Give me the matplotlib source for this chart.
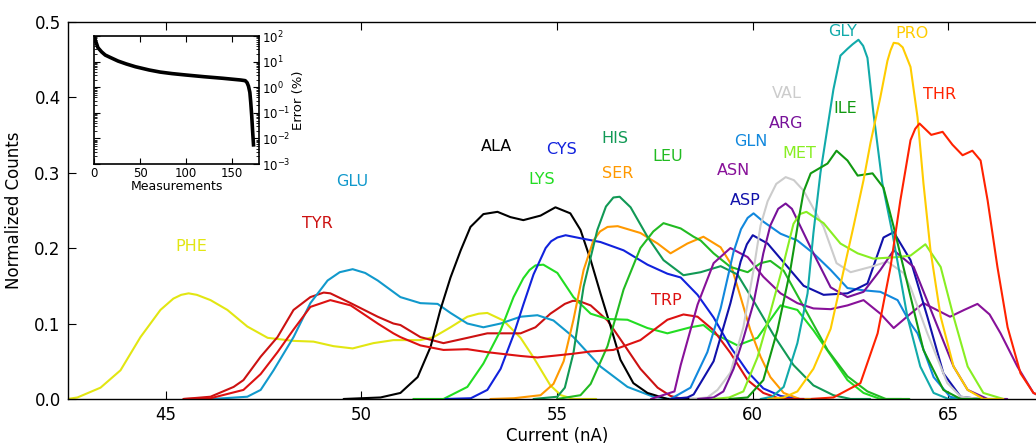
"""
Amino acid current distributions (normalized counts vs current) with error inset.

Output:
    out.png
"""
import matplotlib
matplotlib.use("Agg")
import matplotlib.pyplot as plt

# ---- data (current in nA, normalized counts) ----
PHE_X = [42.50, 42.75, 43.34, 43.85, 44.36, 44.87, 45.20, 45.40, 45.59, 45.80, 46.15, 46.58, 47.09, 47.61,
         48.27, 48.78, 49.29, 49.78, 50.31, 50.82, 51.51, 51.85, 52.28, 52.71, 53.00, 53.22, 53.63, 54.07,
         54.40, 54.83, 55.10, 55.42, 56.00]
PHE_Y = [0.000, 0.002, 0.015, 0.038, 0.082, 0.118, 0.133, 0.138, 0.140, 0.138, 0.131, 0.118, 0.096, 0.081,
         0.077, 0.076, 0.070, 0.067, 0.074, 0.078, 0.078, 0.082, 0.095, 0.109, 0.113, 0.114, 0.104, 0.081,
         0.055, 0.018, 0.005, 0.000, 0.000]

TYR_X = [45.46, 46.15, 46.74, 46.99, 47.43, 47.86, 48.27, 48.70, 49.04, 49.21, 49.73, 50.42, 50.82, 51.00,
         51.51, 52.10, 52.71, 53.22, 54.07, 54.45, 54.83, 55.20, 55.40, 55.55, 55.86, 56.29, 56.70, 57.13,
         57.57, 57.90, 58.20, 58.80]
TYR_Y = [0.000, 0.003, 0.016, 0.025, 0.056, 0.082, 0.118, 0.135, 0.141, 0.140, 0.127, 0.109, 0.100, 0.098,
         0.082, 0.074, 0.081, 0.087, 0.087, 0.095, 0.113, 0.126, 0.130, 0.130, 0.124, 0.104, 0.073, 0.040,
         0.015, 0.004, 0.000, 0.000]

GLU_X = [46.20, 47.09, 47.43, 47.76, 48.27, 48.70, 49.14, 49.45, 49.78, 50.10, 50.42, 51.00, 51.51, 51.95,
         52.28, 52.71, 53.12, 53.56, 54.07, 54.50, 54.91, 55.42, 56.11, 56.80, 57.46, 57.90, 58.50]
GLU_Y = [0.000, 0.003, 0.012, 0.038, 0.082, 0.127, 0.157, 0.168, 0.172, 0.167, 0.157, 0.135, 0.127, 0.126,
         0.114, 0.100, 0.095, 0.100, 0.109, 0.111, 0.104, 0.082, 0.043, 0.016, 0.003, 0.000, 0.000]

ALA_X = [49.55, 50.49, 51.00, 51.44, 51.77, 52.02, 52.28, 52.54, 52.79, 53.12, 53.48, 53.81, 54.14, 54.58,
         54.96, 55.34, 55.60, 55.86, 56.11, 56.37, 56.62, 56.95, 57.31, 57.82, 58.50]
ALA_Y = [0.000, 0.002, 0.008, 0.029, 0.069, 0.118, 0.161, 0.197, 0.228, 0.245, 0.248, 0.241, 0.237, 0.243,
         0.254, 0.246, 0.224, 0.184, 0.140, 0.096, 0.052, 0.021, 0.008, 0.000, 0.000]

LYS_X = [51.33, 52.10, 52.71, 53.12, 53.56, 53.89, 54.14, 54.30, 54.45, 54.65, 55.01, 55.42, 55.86, 56.29,
         56.80, 57.31, 57.82, 58.41, 58.74, 59.00, 59.61, 60.12, 60.45, 60.71, 61.14, 61.55, 61.99, 62.42,
         62.83, 63.26, 63.80]
LYS_Y = [0.000, 0.000, 0.016, 0.047, 0.091, 0.135, 0.160, 0.171, 0.177, 0.178, 0.167, 0.135, 0.113, 0.106,
         0.105, 0.094, 0.087, 0.095, 0.098, 0.087, 0.071, 0.081, 0.105, 0.124, 0.118, 0.091, 0.058, 0.025,
         0.008, 0.000, 0.000]

CYS_X = [52.15, 52.80, 53.22, 53.56, 53.89, 54.14, 54.40, 54.71, 54.85, 55.01, 55.22, 55.60, 56.11, 56.70,
         57.31, 57.82, 58.16, 58.59, 59.00, 59.43, 59.87, 60.27, 60.71, 61.20, 61.80]
CYS_Y = [0.000, 0.001, 0.012, 0.040, 0.085, 0.125, 0.165, 0.200, 0.209, 0.214, 0.217, 0.213, 0.208, 0.197,
         0.178, 0.166, 0.161, 0.138, 0.108, 0.069, 0.036, 0.014, 0.004, 0.000, 0.000]

SER_X = [53.30, 53.90, 54.58, 54.91, 55.17, 55.42, 55.68, 55.93, 56.10, 56.29, 56.55, 57.13, 57.57, 57.90,
         58.33, 58.74, 59.18, 59.43, 59.69, 59.94, 60.20, 60.45, 60.79, 61.20, 61.80]
SER_Y = [0.000, 0.001, 0.005, 0.020, 0.050, 0.105, 0.171, 0.210, 0.222, 0.228, 0.229, 0.220, 0.206, 0.193,
         0.206, 0.215, 0.201, 0.180, 0.135, 0.091, 0.056, 0.029, 0.008, 0.000, 0.000]

HIS_X = [54.40, 55.01, 55.20, 55.42, 55.68, 56.03, 56.25, 56.44, 56.60, 56.88, 57.31, 57.72, 58.23, 58.67,
         59.18, 59.61, 60.02, 60.53, 61.04, 61.55, 62.06, 62.50, 63.00]
HIS_Y = [0.000, 0.003, 0.015, 0.061, 0.149, 0.224, 0.255, 0.267, 0.268, 0.254, 0.215, 0.184, 0.164, 0.168,
         0.176, 0.165, 0.130, 0.085, 0.045, 0.018, 0.005, 0.000, 0.000]

LEU_X = [55.00, 55.60, 55.86, 56.29, 56.70, 57.13, 57.46, 57.72, 58.16, 58.49, 58.67, 59.00, 59.43, 59.87,
         60.20, 60.45, 60.79, 61.40, 61.91, 62.42, 62.93, 63.40, 64.00]
LEU_Y = [0.000, 0.005, 0.020, 0.070, 0.145, 0.200, 0.222, 0.233, 0.226, 0.215, 0.210, 0.193, 0.175, 0.168,
         0.180, 0.183, 0.170, 0.113, 0.065, 0.030, 0.010, 0.000, 0.000]

TRP_X = [45.46, 46.15, 46.99, 47.43, 47.86, 48.27, 48.70, 49.21, 49.73, 50.42, 50.82, 51.00, 51.51, 52.10,
         52.71, 53.22, 54.07, 54.50, 55.42, 55.86, 56.44, 57.13, 57.82, 58.23, 58.59, 59.00, 59.43, 59.87,
         60.27, 60.71, 61.30]
TRP_Y = [0.000, 0.001, 0.012, 0.033, 0.062, 0.092, 0.122, 0.131, 0.124, 0.100, 0.087, 0.082, 0.071, 0.065,
         0.066, 0.062, 0.057, 0.055, 0.060, 0.063, 0.065, 0.078, 0.105, 0.112, 0.109, 0.091, 0.061, 0.025,
         0.008, 0.000, 0.000]

ASN_X = [57.40, 58.00, 58.16, 58.59, 59.00, 59.43, 59.87, 60.27, 60.71, 61.14, 61.55, 61.99, 62.42, 62.83,
         63.26, 63.60, 64.03, 64.36, 64.70, 65.04, 65.40, 65.74, 66.05, 66.33, 66.76, 67.17, 67.40]
ASN_Y = [0.000, 0.010, 0.045, 0.125, 0.180, 0.200, 0.188, 0.162, 0.140, 0.127, 0.120, 0.119, 0.124, 0.131,
         0.113, 0.094, 0.113, 0.127, 0.118, 0.109, 0.118, 0.126, 0.112, 0.087, 0.043, 0.008, 0.002]

GLN_X = [57.90, 58.41, 58.84, 59.18, 59.51, 59.70, 59.87, 60.02, 60.27, 60.71, 61.14, 61.55, 61.99, 62.42,
         62.83, 63.26, 63.70, 64.03, 64.21, 64.62, 65.04, 65.30, 65.80]
GLN_Y = [0.000, 0.015, 0.062, 0.120, 0.195, 0.225, 0.240, 0.246, 0.235, 0.219, 0.210, 0.193, 0.171, 0.147,
         0.144, 0.142, 0.131, 0.100, 0.087, 0.029, 0.003, 0.000, 0.000]

ASP_X = [57.90, 58.33, 58.49, 59.00, 59.43, 59.69, 59.85, 60.00, 60.38, 60.89, 61.30, 61.81, 62.42, 62.93,
         63.34, 63.60, 64.03, 64.46, 64.87, 65.31, 65.80]
ASP_Y = [0.000, 0.002, 0.006, 0.050, 0.127, 0.182, 0.205, 0.217, 0.206, 0.175, 0.150, 0.138, 0.140, 0.153,
         0.214, 0.221, 0.184, 0.109, 0.034, 0.003, 0.000]

VAL_X = [58.40, 58.84, 59.10, 59.43, 59.76, 60.02, 60.20, 60.38, 60.60, 60.84, 61.05, 61.30, 61.81, 62.14,
         62.50, 63.01, 63.44, 63.85, 64.03, 64.46, 64.97, 65.31, 65.80]
VAL_Y = [0.000, 0.002, 0.012, 0.035, 0.095, 0.171, 0.230, 0.262, 0.285, 0.294, 0.290, 0.276, 0.228, 0.180,
         0.168, 0.175, 0.182, 0.167, 0.148, 0.087, 0.021, 0.003, 0.000]

ARG_X = [58.60, 59.00, 59.25, 59.51, 59.76, 60.02, 60.27, 60.45, 60.65, 60.84, 61.00, 61.14, 61.55, 61.99,
         62.42, 62.83, 63.26, 63.60, 64.11, 64.62, 65.13, 65.49, 66.00, 66.50]
ARG_Y = [0.000, 0.002, 0.010, 0.040, 0.080, 0.127, 0.193, 0.230, 0.252, 0.259, 0.252, 0.237, 0.193, 0.148,
         0.135, 0.142, 0.171, 0.197, 0.175, 0.109, 0.043, 0.012, 0.000, 0.000]

MET_X = [59.00, 59.40, 59.76, 60.12, 60.45, 60.79, 61.04, 61.20, 61.37, 61.81, 62.24, 62.68, 63.08, 63.70,
         64.03, 64.41, 64.80, 65.13, 65.49, 65.89, 66.40]
MET_Y = [0.000, 0.002, 0.010, 0.055, 0.115, 0.180, 0.232, 0.245, 0.248, 0.233, 0.206, 0.193, 0.186, 0.188,
         0.190, 0.205, 0.175, 0.109, 0.043, 0.008, 0.000]

GLY_X = [60.20, 60.50, 60.79, 61.14, 61.40, 61.55, 61.73, 61.91, 62.06, 62.24, 62.42, 62.55, 62.70, 62.82,
         62.93, 63.08, 63.31, 63.57, 63.95, 64.28, 64.62, 65.00, 65.50]
GLY_Y = [0.000, 0.003, 0.016, 0.074, 0.140, 0.220, 0.300, 0.360, 0.410, 0.455, 0.464, 0.470, 0.476, 0.468,
         0.452, 0.380, 0.286, 0.219, 0.109, 0.043, 0.008, 0.000, 0.000]

ILE_X = [59.40, 59.87, 60.27, 60.63, 60.96, 61.17, 61.30, 61.48, 61.91, 62.14, 62.42, 62.68, 63.06, 63.34,
         63.60, 63.95, 64.36, 64.87, 65.31, 65.80]
ILE_Y = [0.000, 0.002, 0.025, 0.091, 0.171, 0.237, 0.275, 0.299, 0.312, 0.329, 0.316, 0.296, 0.299, 0.280,
         0.228, 0.153, 0.065, 0.012, 0.000, 0.000]

PRO_X = [60.40, 60.79, 61.14, 61.55, 61.99, 62.32, 62.58, 62.83, 63.01, 63.26, 63.44, 63.52, 63.60, 63.72,
         63.83, 64.03, 64.21, 64.36, 64.54, 64.80, 65.13, 65.49, 65.89, 66.40]
PRO_Y = [0.000, 0.002, 0.010, 0.040, 0.093, 0.170, 0.230, 0.290, 0.340, 0.400, 0.448, 0.462, 0.472, 0.471,
         0.466, 0.440, 0.373, 0.286, 0.197, 0.109, 0.043, 0.012, 0.000, 0.000]

THR_X = [61.50, 62.06, 62.75, 63.19, 63.52, 63.77, 64.03, 64.15, 64.26, 64.56, 64.85, 65.10, 65.36, 65.61,
         65.82, 66.00, 66.25, 66.51, 66.84, 67.17, 67.50]
THR_Y = [0.000, 0.002, 0.021, 0.087, 0.175, 0.263, 0.343, 0.358, 0.365, 0.350, 0.354, 0.337, 0.323, 0.329,
         0.316, 0.263, 0.175, 0.095, 0.034, 0.008, 0.001]

# inset: reconstruction error (%) vs number of measurements
ERR_X = [0, 1, 4, 8, 12, 17, 26, 35, 45, 60, 72, 85, 100, 120, 140, 160, 165, 167, 168.5, 170, 171, 172,
         173, 174]
ERR_Y = [100, 72, 35, 24, 18, 14.8, 10.5, 8.1, 6.3, 4.7, 3.9, 3.4, 3.0, 2.57, 2.24, 1.91, 1.8, 1.5, 1.1,
         0.63, 0.25, 0.08, 0.02, 0.0056]

NAMES = ["PHE", "TYR", "GLU", "ALA", "LYS", "CYS", "SER", "HIS", "LEU", "TRP",
         "ASN", "GLN", "ASP", "VAL", "ARG", "MET", "GLY", "ILE", "PRO", "THR"]
CURVES = {
    "PHE": (PHE_X, PHE_Y), "TYR": (TYR_X, TYR_Y), "GLU": (GLU_X, GLU_Y), "ALA": (ALA_X, ALA_Y),
    "LYS": (LYS_X, LYS_Y), "CYS": (CYS_X, CYS_Y), "SER": (SER_X, SER_Y), "HIS": (HIS_X, HIS_Y),
    "LEU": (LEU_X, LEU_Y), "TRP": (TRP_X, TRP_Y), "ASN": (ASN_X, ASN_Y), "GLN": (GLN_X, GLN_Y),
    "ASP": (ASP_X, ASP_Y), "VAL": (VAL_X, VAL_Y), "ARG": (ARG_X, ARG_Y), "MET": (MET_X, MET_Y),
    "GLY": (GLY_X, GLY_Y), "ILE": (ILE_X, ILE_Y), "PRO": (PRO_X, PRO_Y), "THR": (THR_X, THR_Y),
}
COLORS = {
    "PHE": "#e2e612", "TYR": "#cc1111", "GLU": "#1199cc", "ALA": "#000000", "LYS": "#22dd22",
    "CYS": "#1122dd", "SER": "#ff9900", "HIS": "#119955", "LEU": "#22bb22", "TRP": "#dd1111",
    "ASN": "#881199", "GLN": "#1188dd", "ASP": "#1111aa", "VAL": "#cccccc", "ARG": "#771199",
    "MET": "#88ee22", "GLY": "#11aaaa", "ILE": "#119911", "PRO": "#ffcc00", "THR": "#ff2200",
}
# label anchor (current, counts)
LABEL_X = [45.66, 48.88, 49.78, 53.45, 54.60, 55.11, 56.55, 56.49, 57.82, 57.80,
           59.51, 59.94, 59.81, 60.86, 60.84, 61.19, 62.29, 62.37, 64.08, 64.77]
LABEL_Y = [0.202, 0.233, 0.288, 0.335, 0.291, 0.331, 0.299, 0.345, 0.321, 0.131,
           0.303, 0.341, 0.263, 0.405, 0.365, 0.325, 0.487, 0.385, 0.484, 0.403]


def main() -> None:
    plt.rcParams["font.family"] = "DejaVu Sans"
    fig = plt.figure(figsize=(10.36, 4.44), dpi=100)

    ax = fig.add_axes([0.0653, 0.1014, 0.9447, 0.8498])
    for name in NAMES:
        xs, ys = CURVES[name]
        ax.plot(xs, ys, color=COLORS[name], lw=1.5,
                solid_capstyle="round", solid_joinstyle="round")
    for name, lx, ly in zip(NAMES, LABEL_X, LABEL_Y):
        ax.text(lx, ly, name, color=COLORS[name], fontsize=11.5,
                ha="center", va="center", zorder=5)

    ax.set_xlim(42.5, 67.5)
    ax.set_ylim(0.0, 0.5)
    ax.set_xticks([45, 50, 55, 60, 65])
    ax.set_yticks([0.0, 0.1, 0.2, 0.3, 0.4, 0.5])
    ax.tick_params(direction="in", length=6, width=0.8, top=True, right=True,
                   labelsize=12, pad=5)
    for sp in ax.spines.values():
        sp.set_linewidth(1.0)
    ax.set_xlabel("Current (nA)", fontsize=12, labelpad=2)
    ax.set_ylabel("Normalized Counts", fontsize=12, labelpad=8)

    # inset
    ins = fig.add_axes([0.091, 0.6306, 0.159, 0.2883])
    ins.plot(ERR_X, ERR_Y, color="black", lw=2.6, solid_joinstyle="round")
    ins.set_yscale("log")
    ins.set_xlim(0, 180)
    ins.set_ylim(1e-3, 1e2)
    ins.set_xticks([0, 50, 100, 150])
    ins.tick_params(which="both", direction="in", top=True, right=True,
                    left=True, labelleft=False, labelright=True, labelsize=8.5, pad=2)
    ins.tick_params(which="major", length=4.5, width=0.8)
    ins.tick_params(which="minor", length=2.2, width=0.6)
    for sp in ins.spines.values():
        sp.set_linewidth(1.2)
    ins.yaxis.set_label_position("right")
    ins.set_ylabel("Error (%)", fontsize=9.5, labelpad=1)
    ins.set_xlabel("Measurements", fontsize=9, labelpad=0)

    fig.savefig("out.png", dpi=100)
    plt.close(fig)


if __name__ == "__main__":
    main()
